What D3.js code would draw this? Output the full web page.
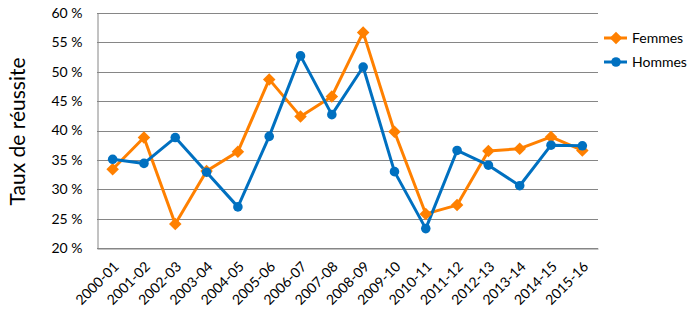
<!DOCTYPE html>
<html>
<head>
<meta charset="utf-8">
<script src="https://cdn.jsdelivr.net/npm/d3@7"></script>
<style>
  body { margin: 0; background: #fff; }
  svg { display: block; font-family: Lato, "Open Sans", sans-serif; }
</style>
</head>
<body>
<svg id="chart"></svg>
<script>
// Data
const years = ["2000-01", "2001-02", "2002-03", "2003-04", "2004-05", "2005-06",
  "2006-07", "2007-08", "2008-09", "2009-10", "2010-11", "2011-12",
  "2012-13", "2013-14", "2014-15", "2015-16"];
const femmes = [33.4, 38.8, 24.1, 33.1, 36.4, 48.7, 42.4, 45.8, 56.7, 39.8,
  25.8, 27.3, 36.5, 36.9, 38.9, 36.6];
const hommes = [35.1, 34.4, 38.8, 32.9, 27.0, 39.0, 52.7, 42.7, 50.8, 33.0,
  23.3, 36.6, 34.1, 30.6, 37.5, 37.4];
const yTicks = [20, 25, 30, 35, 40, 45, 50, 55, 60];

const width = 698;
const height = 320;
const margin = { top: 13, right: 100, bottom: 72, left: 97 };

const svg = d3.select("#chart").attr("width", width).attr("height", height);

const x = d3.scaleBand()
  .domain(years)
  .range([margin.left, width - margin.right]);

const y = d3.scaleLinear()
  .domain([20, 60])
  .range([height - margin.bottom, margin.top]);

// Horizontal gridlines
svg.append("g")
  .selectAll("line")
  .data(yTicks)
  .enter()
  .append("line")
  .attr("x1", margin.left)
  .attr("x2", width - margin.right)
  .attr("y1", (d) => Math.round(y(d)) + 0.5)
  .attr("y2", (d) => Math.round(y(d)) + 0.5)
  .attr("stroke", "#868686")
  .attr("stroke-width", 1);

// Y axis
const yAxis = svg.append("g")
  .attr("transform", `translate(${margin.left + 0.5},0)`)
  .call(d3.axisLeft(y).tickValues(yTicks).tickSize(0).tickPadding(15)
    .tickFormat((d) => d + " %"));
yAxis.select(".domain").attr("stroke", "#868686");
yAxis.selectAll("text").attr("font-size", 14).attr("fill", "#000")
  .style("font-family", "Lato, sans-serif");

// X axis
const xAxis = svg.append("g")
  .attr("transform", `translate(0,${Math.round(y(20)) + 0.5})`)
  .call(d3.axisBottom(x).tickSize(0).tickPadding(0));
xAxis.select(".domain").attr("stroke", "#868686");
xAxis.selectAll("text")
  .attr("font-size", 14)
  .attr("fill", "#000")
  .style("font-family", "Lato, sans-serif")
  .attr("text-anchor", "end")
  .attr("dy", null)
  .attr("y", null)
  .attr("transform", "translate(7,19) rotate(-45)");

// Y axis title
svg.append("text")
  .attr("transform", `translate(25,${(margin.top + height - margin.bottom) / 2 + 1}) rotate(-90)`)
  .attr("text-anchor", "middle")
  .attr("font-size", 21)
  .attr("fill", "#000")
  .text("Taux de réussite");

const cx = (d, i) => x(years[i]) + x.bandwidth() / 2;
const line = d3.line().x(cx).y((d) => y(d));

const series = [
  { name: "Femmes", values: femmes, color: "#FF8000", shape: d3.symbolDiamond2 },
  { name: "Hommes", values: hommes, color: "#0070C0", shape: d3.symbolCircle },
];

series.forEach((s) => {
  svg.append("path")
    .datum(s.values)
    .attr("fill", "none")
    .attr("stroke", s.color)
    .attr("stroke-width", 3)
    .attr("stroke-linejoin", "round")
    .attr("d", line);
});

series.forEach((s) => {
  svg.append("g")
    .selectAll("path")
    .data(s.values)
    .enter()
    .append("path")
    .attr("transform", (d, i) => `translate(${cx(d, i)},${y(d)})`)
    .attr("d", d3.symbol().type(s.shape).size(s.name === "Femmes" ? 100 : 72))
    .attr("fill", s.color);
});

// Legend
const legend = svg.append("g")
  .selectAll("g")
  .data(series)
  .enter()
  .append("g")
  .attr("transform", (d, i) => `translate(604,${38 + i * 24})`);
legend.append("line")
  .attr("x1", 0).attr("x2", 23)
  .attr("stroke", (d) => d.color)
  .attr("stroke-width", 3);
legend.append("path")
  .attr("transform", "translate(12,0)")
  .attr("d", (d) => d3.symbol().type(d.shape).size(d.name === "Femmes" ? 100 : 72)())
  .attr("fill", (d) => d.color);
legend.append("text")
  .attr("x", 28)
  .attr("dy", "0.35em")
  .attr("font-size", 14)
  .attr("fill", "#000")
  .text((d) => d.name);
</script>
</body>
</html>
